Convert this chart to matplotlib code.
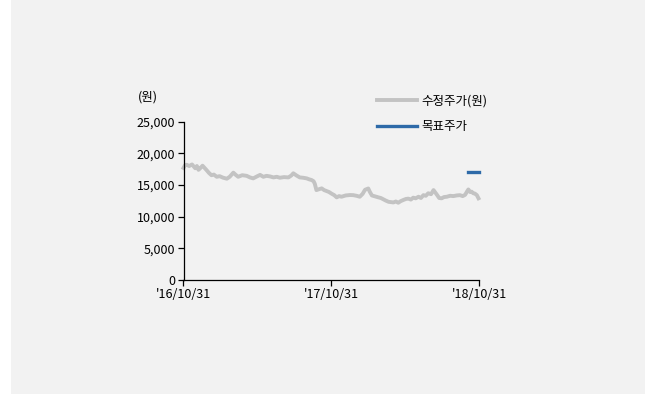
import numpy as np
import pandas as pd
import matplotlib
matplotlib.use('Agg')
from matplotlib import pyplot as plt
from matplotlib.patches import Rectangle

plt.rcParams['font.family'] = ['Noto Sans CJK KR', 'DejaVu Sans']

# Adjusted stock price (won)
price_dates = [
    '2016-10-31', '2016-11-04', '2016-11-08', '2016-11-14', '2016-11-21', '2016-11-25',
    '2016-11-29', '2016-12-03', '2016-12-07', '2016-12-12', '2016-12-17', '2016-12-22',
    '2016-12-27', '2017-01-02', '2017-01-08', '2017-01-14', '2017-01-21', '2017-01-28',
    '2017-02-06', '2017-02-15', '2017-02-22', '2017-03-03', '2017-03-09', '2017-03-15',
    '2017-03-25', '2017-04-05', '2017-04-13', '2017-04-21', '2017-04-30', '2017-05-08',
    '2017-05-16', '2017-05-24', '2017-06-02', '2017-06-10', '2017-06-18', '2017-06-26',
    '2017-07-06', '2017-07-17', '2017-07-24', '2017-07-29', '2017-08-06', '2017-08-14',
    '2017-08-22', '2017-08-31', '2017-09-06', '2017-09-12', '2017-09-17', '2017-09-20',
    '2017-09-24', '2017-10-01', '2017-10-07', '2017-10-13', '2017-10-19', '2017-10-25',
    '2017-10-31', '2017-11-07', '2017-11-13', '2017-11-19', '2017-11-25', '2017-12-05',
    '2017-12-16', '2017-12-24', '2018-01-01', '2018-01-09', '2018-01-16', '2018-01-22',
    '2018-01-30', '2018-02-03', '2018-02-08', '2018-02-16', '2018-02-24', '2018-03-02',
    '2018-03-08', '2018-03-14', '2018-03-21', '2018-03-27', '2018-04-02', '2018-04-08',
    '2018-04-14', '2018-04-20', '2018-04-27', '2018-05-03', '2018-05-09', '2018-05-15',
    '2018-05-21', '2018-05-27', '2018-06-03', '2018-06-09', '2018-06-15', '2018-06-21',
    '2018-06-27', '2018-07-04', '2018-07-10', '2018-07-18', '2018-07-24', '2018-07-30',
    '2018-08-05', '2018-08-12', '2018-08-20', '2018-08-28', '2018-09-05', '2018-09-13',
    '2018-09-20', '2018-09-26', '2018-10-01', '2018-10-04', '2018-10-08', '2018-10-12',
    '2018-10-16', '2018-10-20', '2018-10-25', '2018-10-29',
]
price_values = [
    17700, 18150, 18200, 18000, 18250, 17950,
    17650, 18000, 17400, 17700, 18050, 17700,
    17350, 16900, 16550, 16650, 16300, 16400,
    16150, 16000, 16300, 16950, 16600, 16300,
    16550, 16450, 16200, 16050, 16350, 16600,
    16300, 16450, 16350, 16200, 16300, 16150,
    16250, 16200, 16500, 16850, 16500, 16200,
    16150, 16050, 15900, 15790, 15600, 15200,
    14200, 14350, 14470, 14200, 14050, 13900,
    13650, 13400, 13050, 13250, 13150, 13350,
    13420, 13400, 13300, 13150, 13600, 14250,
    14450, 13900, 13350, 13200, 13050, 12950,
    12750, 12550, 12350, 12300, 12250, 12400,
    12200, 12450, 12650, 12800, 12850, 12700,
    13000, 12900, 13150, 12950, 13400, 13300,
    13700, 13550, 14200, 13500, 12950, 12900,
    13100, 13150, 13300, 13250, 13350, 13400,
    13250, 13450, 14000, 14300, 13900, 13950,
    13700, 13650, 13400, 12900,
]

# Target price (won)
target_dates = ['2018-10-03', '2018-10-31']
target_values = [17000, 17000]

x_tick_dates = ['2016-10-31', '2017-10-31', '2018-10-31']
x_tick_labels = ["'16/10/31", "'17/10/31", "'18/10/31"]
y_ticks = [0, 5000, 10000, 15000, 20000, 25000]

fig = plt.figure(figsize=(6.45, 3.94), dpi=100, facecolor='white')
# gray panel behind the chart
fig.patches.append(Rectangle((11 / 645, 0), 1 - 11 / 645, 1, transform=fig.transFigure,
                             facecolor='#f2f2f2', edgecolor='none', zorder=-10))

ax = fig.add_axes([183.5 / 645, 1 - 280 / 394, (479.3 - 183.5) / 645, (280 - 121.7) / 394])
ax.set_facecolor('none')

ax.plot(pd.to_datetime(price_dates), price_values, color='#c3c3c3', lw=2.8,
        solid_joinstyle='round', label='수정주가(원)', clip_on=False)
ax.plot(pd.to_datetime(target_dates), target_values, color='#2e6aa8', lw=2.4,
        label='목표주가', clip_on=False)

ax.set_xlim(pd.Timestamp('2016-10-31'), pd.Timestamp('2018-10-31'))
ax.set_ylim(0, 25000)
ax.set_xticks(pd.to_datetime(x_tick_dates))
ax.set_xticklabels(x_tick_labels)
ax.set_yticks(y_ticks)
ax.set_yticklabels(['{:,}'.format(v) for v in y_ticks])

for side in ['top', 'right']:
    ax.spines[side].set_visible(False)
for side in ['left', 'bottom']:
    ax.spines[side].set_color('black')
    ax.spines[side].set_linewidth(0.9)
ax.tick_params(axis='both', direction='out', length=4, width=0.9, colors='black',
               labelsize=9, pad=2)

ax.text(-0.155, 1.155, '(원)', transform=ax.transAxes, fontsize=9, ha='left', va='center')

ax.legend(loc='upper left', bbox_to_anchor=(0.655, 1.17), frameon=False, fontsize=9,
          handlelength=3.2, handletextpad=0.3, labelspacing=1.0, borderaxespad=0,
          borderpad=0)

fig.savefig('out.png', dpi=100, facecolor=fig.get_facecolor())
